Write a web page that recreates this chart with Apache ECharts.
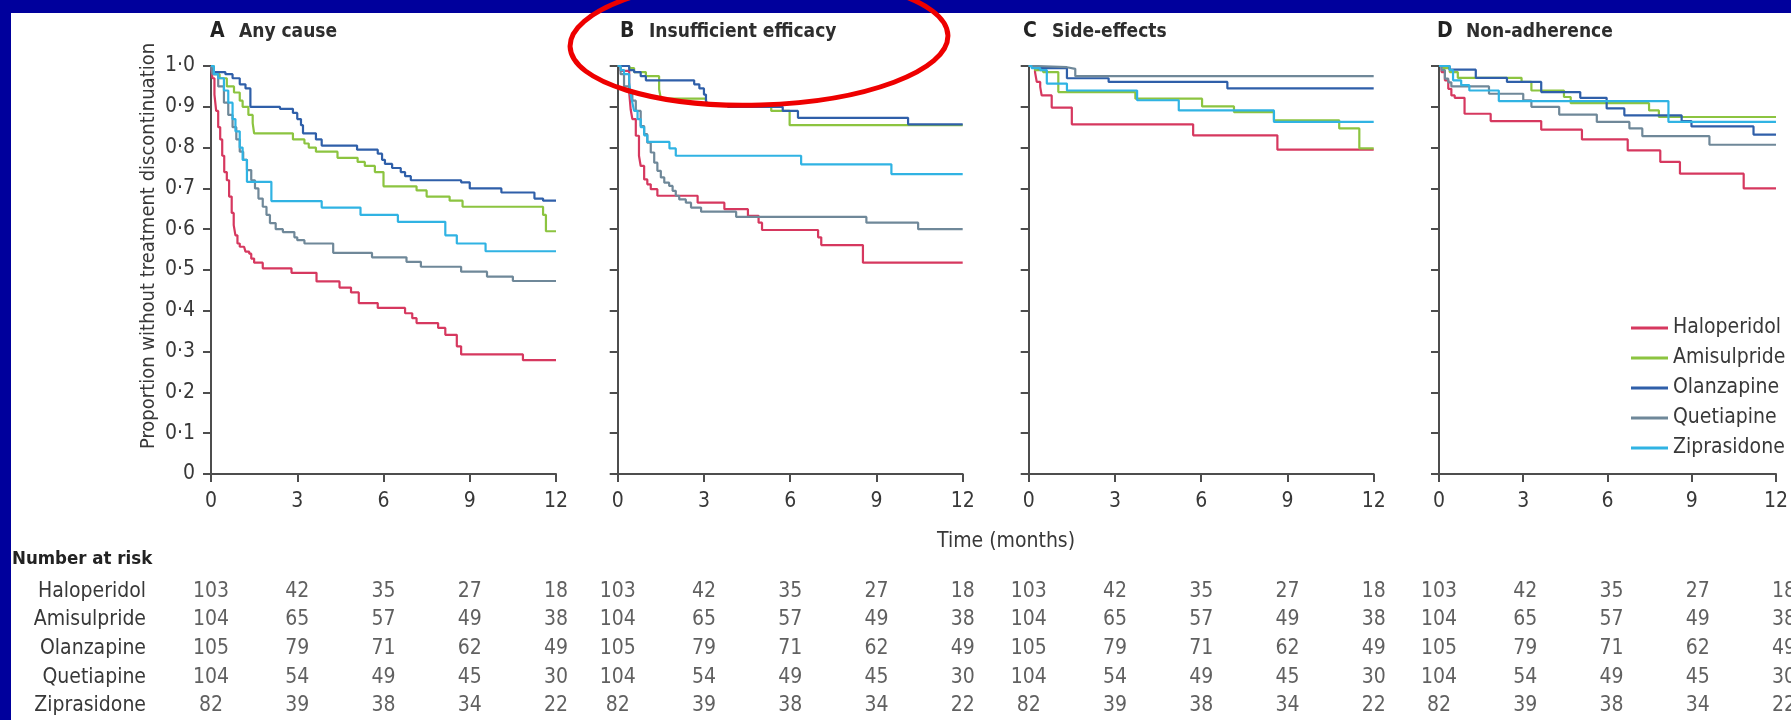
<!DOCTYPE html>
<html>
<head>
<meta charset="utf-8">
<script src="https://cdn.jsdelivr.net/npm/echarts@6/dist/echarts.min.js"></script>
<style>
html,body{margin:0;padding:0;background:#fff;}
#c{width:1791px;height:720px;}
</style>
</head>
<body>
<div id="c"></div>
<script>
// ---------- DATA ----------
const drugs = ['Haloperidol', 'Amisulpride', 'Olanzapine', 'Quetiapine', 'Ziprasidone'];
const drugColors = ['#d6385f', '#8cc440', '#2f5fa9', '#6f8899', '#30b3e3'];
const monthTicks = [0, 3, 6, 9, 12];
const panelLetters = ['A', 'B', 'C', 'D'];
const panelNames = ['Any cause', 'Insufficient efficacy', 'Side-effects', 'Non-adherence'];
const yAxisTitle = 'Proportion without treatment discontinuation';
const xAxisTitle = 'Time (months)';
const riskTitle = 'Number at risk';

// Number at risk (same in every panel)
const riskHal = [103, 42, 35, 27, 18];
const riskAmi = [104, 65, 57, 49, 38];
const riskOlz = [105, 79, 71, 62, 49];
const riskQue = [104, 54, 49, 45, 30];
const riskZip = [82, 39, 38, 34, 22];

// A  Any cause  [month, proportion]
const anyHal = [[0,1],[0.05,0.97],[0.12,0.93],[0.18,0.89],[0.25,0.85],[0.32,0.82],[0.39,0.78],[0.46,0.74],[0.55,0.72],[0.63,0.68],[0.72,0.64],[0.79,0.61],[0.85,0.585],[0.92,0.565],[1.0,0.557],[1.15,0.553],[1.2,0.545],[1.33,0.54],[1.4,0.528],[1.5,0.518],[1.8,0.504],[2.8,0.493],[3.67,0.472],[4.47,0.457],[4.87,0.445],[5.14,0.419],[5.8,0.407],[6.75,0.394],[7.0,0.382],[7.15,0.37],[7.9,0.358],[8.15,0.341],[8.55,0.313],[8.7,0.293],[10.85,0.279],[12,0.279]];
const anyAmi = [[0,1],[0.1,0.98],[0.3,0.97],[0.55,0.95],[0.8,0.935],[1.0,0.915],[1.1,0.9],[1.3,0.88],[1.45,0.86],[1.5,0.835],[2.85,0.82],[3.25,0.81],[3.4,0.8],[3.65,0.79],[4.4,0.775],[5.1,0.765],[5.35,0.755],[5.7,0.74],[6.0,0.705],[7.15,0.695],[7.5,0.68],[8.3,0.67],[8.75,0.655],[11.55,0.635],[11.65,0.595],[12,0.595]];
const anyOlz = [[0,1],[0.05,0.985],[0.5,0.98],[0.75,0.97],[1.0,0.955],[1.2,0.945],[1.37,0.9],[2.4,0.895],[2.85,0.885],[3.0,0.87],[3.13,0.855],[3.2,0.835],[3.65,0.82],[3.85,0.805],[5.08,0.795],[5.8,0.785],[5.95,0.77],[6.05,0.76],[6.3,0.75],[6.6,0.74],[6.75,0.73],[6.95,0.72],[8.7,0.715],[9.0,0.7],[10.1,0.69],[11.25,0.675],[11.55,0.67],[12,0.67]];
const anyQue = [[0,1],[0.05,0.98],[0.25,0.95],[0.45,0.91],[0.6,0.88],[0.75,0.85],[0.88,0.82],[1.0,0.79],[1.12,0.77],[1.25,0.745],[1.4,0.72],[1.53,0.7],[1.65,0.675],[1.8,0.655],[1.93,0.635],[2.05,0.615],[2.25,0.6],[2.5,0.593],[2.9,0.58],[3.0,0.573],[3.25,0.565],[4.25,0.542],[5.6,0.531],[6.8,0.52],[7.3,0.508],[8.7,0.496],[9.6,0.484],[10.5,0.473],[12,0.473]];
const anyZip = [[0,1],[0.1,0.98],[0.25,0.97],[0.45,0.94],[0.6,0.91],[0.75,0.87],[0.85,0.84],[1.0,0.8],[1.1,0.77],[1.25,0.716],[2.1,0.669],[3.85,0.653],[5.2,0.635],[6.5,0.618],[8.15,0.585],[8.55,0.565],[9.55,0.546],[12,0.546]];

// B  Insufficient efficacy
const effHal = [[0,1],[0.1,0.988],[0.4,0.935],[0.45,0.894],[0.51,0.87],[0.63,0.829],[0.74,0.78],[0.8,0.755],[0.92,0.722],[1.03,0.71],[1.15,0.698],[1.38,0.682],[2.78,0.665],[3.71,0.649],[4.53,0.633],[4.9,0.616],[5.02,0.598],[6.97,0.58],[7.08,0.561],[8.53,0.518],[12,0.518]];
const effAmi = [[0,1],[0.4,0.995],[0.57,0.985],[0.98,0.975],[1.44,0.943],[1.5,0.92],[3.07,0.904],[3.83,0.9],[5.34,0.89],[5.98,0.855],[12,0.855]];
const effOlz = [[0,1],[0.4,0.99],[0.57,0.985],[0.8,0.975],[0.98,0.965],[2.66,0.955],[2.84,0.945],[3.0,0.93],[3.07,0.915],[3.13,0.905],[3.83,0.9],[5.74,0.89],[6.27,0.873],[10.1,0.857],[12,0.857]];
const effQue = [[0,1],[0.1,0.98],[0.22,0.95],[0.4,0.94],[0.51,0.915],[0.63,0.89],[0.8,0.853],[0.92,0.833],[1.03,0.812],[1.15,0.788],[1.27,0.763],[1.38,0.743],[1.5,0.727],[1.62,0.714],[1.79,0.706],[1.91,0.694],[2.02,0.682],[2.14,0.673],[2.37,0.665],[2.55,0.653],[2.9,0.643],[4.12,0.63],[8.65,0.616],[10.45,0.6],[12,0.6]];
const effZip = [[0,1],[0.1,0.99],[0.22,0.98],[0.4,0.96],[0.45,0.93],[0.51,0.91],[0.57,0.89],[0.69,0.87],[0.8,0.85],[0.92,0.83],[1.03,0.814],[1.8,0.798],[2.02,0.78],[6.38,0.759],[9.52,0.735],[12,0.735]];

// C  Side-effects
const sideHal = [[0,1],[0.22,0.985],[0.28,0.961],[0.4,0.949],[0.45,0.928],[0.8,0.898],[1.5,0.857],[5.72,0.83],[8.65,0.795],[12,0.795]];
const sideAmi = [[0,1],[0.22,0.99],[0.5,0.985],[1.03,0.936],[3.71,0.92],[6.03,0.901],[7.14,0.887],[8.53,0.867],[10.8,0.847],[11.5,0.798],[12,0.798]];
const sideOlz = [[0,1],[0.3,0.995],[1.33,0.97],[2.78,0.961],[6.91,0.945],[12,0.945]];
const sideQue = [[0,1],[0.25,0.997],[1.33,0.993],[1.62,0.975],[12,0.975]];
const sideZip = [[0,1],[0.1,0.995],[0.4,0.99],[0.63,0.957],[1.33,0.94],[3.77,0.916],[5.22,0.891],[8.53,0.863],[12,0.863]];

// D  Non-adherence
const nonHal = [[0,1],[0.09,0.985],[0.21,0.965],[0.33,0.944],[0.44,0.928],[0.56,0.922],[0.91,0.883],[1.84,0.865],[3.64,0.844],[5.09,0.82],[6.72,0.793],[7.88,0.765],[8.58,0.736],[10.85,0.7],[12,0.7]];
const nonAmi = [[0,1],[0.15,0.995],[0.38,0.985],[0.67,0.971],[2.94,0.961],[3.29,0.94],[4.45,0.924],[4.69,0.909],[7.48,0.891],[7.83,0.875],[12,0.875]];
const nonOlz = [[0,1],[0.38,0.991],[1.31,0.971],[2.42,0.961],[3.64,0.936],[5.03,0.922],[5.97,0.896],[6.6,0.879],[8.64,0.865],[8.99,0.852],[11.2,0.832],[12,0.832]];
const nonQue = [[0,1],[0.09,0.99],[0.21,0.969],[0.33,0.96],[0.44,0.95],[1.78,0.932],[3.0,0.916],[3.29,0.9],[4.28,0.881],[5.62,0.863],[6.78,0.847],[7.24,0.828],[9.63,0.807],[12,0.807]];
const nonZip = [[0,1],[0.38,0.99],[0.5,0.965],[0.79,0.953],[1.08,0.94],[2.13,0.914],[8.17,0.863],[12,0.863]];

// ---------- BUILD ----------
const panels = [
  [anyHal, anyAmi, anyOlz, anyQue, anyZip],
  [effHal, effAmi, effOlz, effQue, effZip],
  [sideHal, sideAmi, sideOlz, sideQue, sideZip],
  [nonHal, nonAmi, nonOlz, nonQue, nonZip]
];
const risk = [riskHal, riskAmi, riskOlz, riskQue, riskZip];

function pickFont(list) {
  const ctx = document.createElement('canvas').getContext('2d');
  const s = 'Haloperidol 0123456789 Wmi';
  for (const f of list) {
    ctx.font = '40px monospace'; const a = ctx.measureText(s).width;
    ctx.font = '40px "' + f + '", monospace'; const b = ctx.measureText(s).width;
    ctx.font = '40px serif'; const c = ctx.measureText(s).width;
    ctx.font = '40px "' + f + '", serif'; const d = ctx.measureText(s).width;
    if (a !== b || c !== d) return f;
  }
  return 'sans-serif';
}
const FONT = pickFont(['Liberation Sans Narrow', 'DejaVu Sans Condensed', 'Roboto', 'Lato', 'Noto Sans']);
const mctx = document.createElement('canvas').getContext('2d');
mctx.font = '100px "' + FONT + '"';
const wHalo = mctx.measureText('Haloperidol').width;
const FS = Math.min(23, Math.round(100 * 108 / wHalo * 2) / 2);
const wTitle = mctx.measureText(yAxisTitle).width;
const FSY = Math.min(24, Math.round(100 * 406 / wTitle * 2) / 2);
mctx.font = 'bold 100px "' + FONT + '"';
const wRisk = mctx.measureText(riskTitle).width;
const FSR = Math.min(23, Math.round(100 * 140 / wRisk * 2) / 2);
const TXT = '#383838';
const AX = '#4d4d4d';

const gridLeft = [211, 617.7, 1028.7, 1439];
const gridW = 345, gridTop = 66, gridH = 408;
const titleLeft = [205, 615, 1018, 1432];

const grids = [], xAxes = [], yAxes = [], series = [], titles = [];
for (let p = 0; p < 4; p++) {
  grids.push({left: gridLeft[p], top: gridTop, width: gridW, height: gridH});
  xAxes.push({
    gridIndex: p, type: 'value', min: 0, max: 12, interval: 3,
    axisLine: {show: true, onZero: false, lineStyle: {color: AX, width: 2}},
    axisTick: {show: true, length: 8, lineStyle: {color: AX, width: 2}},
    splitLine: {show: false},
    axisLabel: {margin: 17, fontFamily: FONT, fontSize: FS, color: TXT,
      formatter: v => monthTicks.includes(v) ? String(v) : ''}
  });
  yAxes.push({
    gridIndex: p, type: 'value', min: 0, max: 1, interval: 0.1,
    axisLine: {show: true, onZero: false, lineStyle: {color: AX, width: 2}},
    axisTick: {show: true, length: 8, lineStyle: {color: AX, width: 2}},
    splitLine: {show: false},
    axisLabel: {show: p === 0, margin: 16, fontFamily: FONT, fontSize: FS, color: TXT,
      formatter: v => v === 0 ? '0' : v.toFixed(1).replace('.', '\u00b7')},
    name: p === 0 ? yAxisTitle : '', nameLocation: 'middle', nameRotate: 90, nameGap: 52,
    nameTextStyle: {fontFamily: FONT, fontSize: FSY, color: TXT, padding: [0, 0, 0, 48]}
  });
  titles.push({
    left: titleLeft[p], top: 14,
    text: '{l|' + panelLetters[p] + '}{t|' + panelNames[p] + '}',
    textStyle: {rich: {
      l: {fontFamily: FONT, fontSize: 21, fontWeight: 'bold', color: '#222', width: 29, lineHeight: 26},
      t: {fontFamily: FONT, fontSize: 19, fontWeight: 'bold', color: '#2e2e2e', lineHeight: 26}
    }}
  });
  panels[p].forEach((d, i) => {
    series.push({
      type: 'line', name: drugs[i], xAxisIndex: p, yAxisIndex: p, data: d,
      step: 'end', showSymbol: false, symbol: 'none', silent: true,
      color: drugColors[i], lineStyle: {width: 2.2, color: drugColors[i]}, z: 3
    });
  });
}

// number-at-risk table grids
for (let p = 0; p < 4; p++) {
  const gi = 4 + p;
  grids.push({left: gridLeft[p], top: 577, width: gridW, height: 148});
  xAxes.push({gridIndex: gi, type: 'value', min: 0, max: 12, show: false});
  yAxes.push({
    gridIndex: gi, type: 'category', data: drugs, inverse: true,
    axisLine: {show: false}, axisTick: {show: false}, splitLine: {show: false},
    axisLabel: {show: p === 0, margin: 65, fontFamily: FONT, fontSize: FS, color: TXT}
  });
  const data = [];
  risk.forEach((row, i) => row.forEach((n, j) => data.push([monthTicks[j], i, n])));
  series.push({
    type: 'scatter', xAxisIndex: gi, yAxisIndex: gi, data: data, symbolSize: 1,
    itemStyle: {color: 'rgba(0,0,0,0)'}, silent: true,
    label: {show: true, position: 'inside', formatter: q => String(q.value[2]),
      fontFamily: FONT, fontSize: FS, color: TXT}
  });
}

const chart = echarts.init(document.getElementById('c'), null, {renderer: 'canvas'});
chart.setOption({
  animation: false,
  backgroundColor: '#ffffff',
  title: titles,
  grid: grids,
  xAxis: xAxes,
  yAxis: yAxes,
  series: series,
  legend: {
    data: drugs, orient: 'vertical', left: 1626, top: 311, itemGap: 6,
    icon: 'rect', itemWidth: 37, itemHeight: 3, selectedMode: false,
    textStyle: {fontFamily: FONT, fontSize: FS, color: TXT, lineHeight: 24}
  },
  graphic: [
    {type: 'rect', left: 0, top: 0, shape: {width: 11, height: 720}, style: {fill: '#00009c'}, z: 50, silent: true},
    {type: 'rect', left: 0, top: 0, shape: {width: 1791, height: 13}, style: {fill: '#00009c'}, z: 50, silent: true},
    {type: 'text', left: 12, top: 550, style: {text: riskTitle, font: 'bold ' + FSR + 'px "' + FONT + '"', fill: '#222'}, z: 10},
    {type: 'text', left: 937, top: 531, style: {text: xAxisTitle, font: FS + 'px "' + FONT + '"', fill: TXT}, z: 10},
    {type: 'ellipse', shape: {cx: 759, cy: 41, rx: 189, ry: 64}, originX: 759, originY: 41, rotation: 0.03,
      style: {fill: 'none', stroke: '#ee0000', lineWidth: 5}, z: 100, silent: true}
  ]
});
</script>
</body>
</html>
